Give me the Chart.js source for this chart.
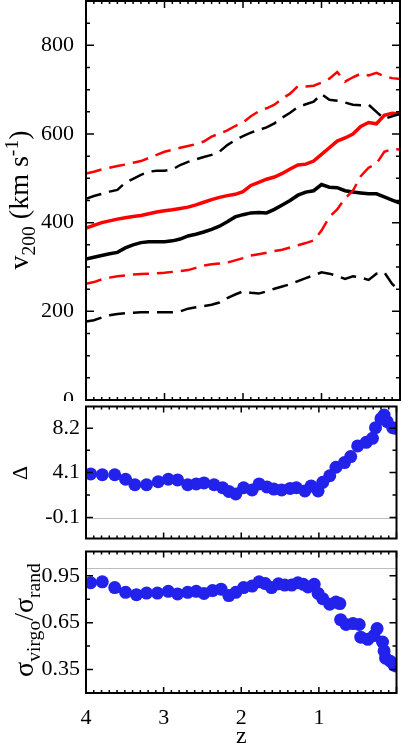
<!DOCTYPE html>
<html>
<head>
<meta charset="utf-8">
<script src="https://cdn.jsdelivr.net/npm/chart.js@4.4.1/dist/chart.umd.min.js"></script>
<style>
body { margin: 0; background: #fff; width: 403px; height: 746px; overflow: hidden; position: relative; font-family: "Liberation Serif", serif; }
canvas { position: absolute; left: 0; }
.yt { position: absolute; white-space: nowrap; transform: translate(-50%, -50%) rotate(-90deg); font-size: 28px; line-height: 1; color: #000; }
.yt sub, .yt sup { font-size: 70%; }
</style>
</head>
<body>
<canvas id="cV" width="403" height="401" style="top:0"></canvas>
<canvas id="cD" width="403" height="145" style="top:400px"></canvas>
<canvas id="cS" width="403" height="204" style="top:545px"></canvas>
<div class="yt" style="left:20px;top:200px">v<sub>200</sub> (km s<sup>-1</sup>)</div>
<div class="yt" style="left:20px;top:473px;font-size:22px">&Delta;</div>
<div class="yt" style="left:27px;top:620px">&sigma;<sub>virgo</sub>/&sigma;<sub>rand</sub></div>
<script>
// redshift grid for the v200 curves
const zLine = [4.0, 3.9, 3.8, 3.7, 3.6, 3.5, 3.4, 3.3, 3.2, 3.1, 3.0, 2.9, 2.8, 2.7, 2.6, 2.5, 2.4, 2.3, 2.2, 2.1,
               2.0, 1.9, 1.8, 1.7, 1.6, 1.5, 1.4, 1.3, 1.2, 1.1, 1.0, 0.9, 0.8, 0.7, 0.6, 0.5, 0.4, 0.3, 0.2, 0.1, 0.0];

const redMid = [388, 394, 400, 404, 408, 411, 414, 416, 420, 424, 427, 429, 432, 435, 440, 446, 452, 457, 461, 464,
                470, 484, 491, 498, 503, 511, 521, 530, 532, 539, 554, 569, 584, 591, 600, 617, 626, 623, 642, 647, 645];
const redHi  = [511, 515, 520, 524, 528, 531, 535, 539, 546, 553, 560, 564, 569, 573, 577, 583, 594, 601, 608, 618,
                626, 640, 651, 658, 666, 680, 691, 708, 707, 709, 716, 725, 740, 718, 728, 736, 732, 738, 730, 726, 724];
const redLo  = [262, 266, 272, 276, 279, 281, 283, 284, 285, 286, 287, 289, 291, 293, 298, 303, 306, 308, 310, 315,
                320, 326, 329, 332, 336, 339, 344, 349, 354, 360, 382, 413, 430, 455, 472, 505, 524, 533, 560, 566, 565];
const blackMid = [318, 322, 326, 330, 333, 343, 350, 355, 357, 357, 357, 359, 363, 370, 374, 379, 385, 392, 402, 413,
                  418, 422, 423, 422, 430, 440, 450, 462, 469, 472, 486, 480, 479, 472, 469, 467, 465, 465, 458, 451, 444];
const blackHi  = [454, 460, 465, 470, 474, 490, 499, 508, 515, 517, 517, 520, 530, 537, 543, 548, 553, 560, 575, 586,
                  595, 603, 609, 615, 624, 637, 648, 661, 667, 673, 690, 677, 675, 671, 666, 665, 666, 650, 634, 640, 645];
const blackLo  = [177, 180, 186, 191, 194, 196, 197, 198, 198, 198, 198, 198, 200, 206, 209, 212, 215, 220, 230, 238,
                  245, 242, 240, 245, 251, 256, 261, 268, 275, 281, 288, 285, 280, 273, 279, 276, 271, 285, 288, 262, 245];

const zDelta = [3.94, 3.79, 3.63, 3.49, 3.37, 3.22, 3.07, 2.94, 2.82, 2.69, 2.58, 2.48, 2.35, 2.24, 2.16, 2.07, 1.97,
                1.86, 1.77, 1.67, 1.58, 1.48, 1.37, 1.29, 1.18, 1.10, 1.01, 0.95, 0.86, 0.78, 0.67, 0.59, 0.50, 0.39,
                0.31, 0.27, 0.20, 0.16, 0.12, 0.05, 0.01];
const deltaVals = [3.96, 3.88, 3.88, 3.46, 2.95, 2.95, 3.23, 3.46, 3.40, 2.95, 3.03, 3.12, 2.95, 2.67, 2.33, 2.10, 2.67,
                   2.47, 3.03, 2.75, 2.55, 2.47, 2.61, 2.67, 2.38, 2.84, 2.38, 3.18, 3.79, 4.58, 5.01, 5.57, 6.56, 6.90,
                   7.27, 8.26, 9.10, 9.44, 8.82, 8.26, 8.20];

const zSigma = [3.94, 3.79, 3.63, 3.49, 3.35, 3.22, 3.08, 2.94, 2.82, 2.69, 2.58, 2.48, 2.37, 2.26, 2.16, 2.07, 1.97,
                1.86, 1.77, 1.69, 1.61, 1.52, 1.44, 1.35, 1.27, 1.20, 1.14, 1.06, 1.01, 0.95, 0.86, 0.78, 0.73, 0.72,
                0.65, 0.56, 0.48, 0.46, 0.37, 0.29, 0.25, 0.18, 0.16, 0.14, 0.08, 0.03, 0.0];
const sigmaVals = [0.905, 0.911, 0.874, 0.844, 0.829, 0.839, 0.839, 0.850, 0.833, 0.844, 0.850, 0.837, 0.855, 0.864,
                   0.823, 0.844, 0.874, 0.884, 0.911, 0.900, 0.874, 0.898, 0.890, 0.890, 0.905, 0.895, 0.878, 0.895,
                   0.837, 0.803, 0.768, 0.782, 0.772, 0.669, 0.638, 0.644, 0.638, 0.557, 0.543, 0.567, 0.612, 0.526,
                   0.469, 0.423, 0.403, 0.378, 0.372];

const zTickLabels = [4, 3, 2, 1];
const deltaTicks = [-0.1, 2.0, 4.1, 6.15, 8.2];
const deltaTickLabels = ['-0.1', '', '4.1', '', '8.2'];
const sigmaTicks = [0.35, 0.5, 0.65, 0.8, 0.95];
const sigmaTickLabels = ['0.35', '', '0.65', '', '0.95'];

const FONT = '"Liberation Serif", serif';
const BLUE = 'rgb(34, 34, 236)';
const DASH = [16, 8];

const pts = (xs, ys) => xs.map((x, i) => ({ x: x, y: ys[i] }));

// box around the plot, ticks pointing inward on all four sides, optional grey reference line
const framePlugin = {
    id: 'frame',
    beforeDatasetsDraw(chart, args, opts) {
        if (opts.refLine === undefined) return;
        const { ctx, chartArea: a, scales } = chart;
        const y = Math.round(scales.y.getPixelForValue(opts.refLine)) + 0.5;
        ctx.save();
        ctx.strokeStyle = '#bdbdbd';
        ctx.lineWidth = 1;
        ctx.beginPath();
        ctx.moveTo(a.left, y);
        ctx.lineTo(a.right, y);
        ctx.stroke();
        ctx.restore();
    },
    afterDatasetsDraw(chart, args, opts) {
        const { ctx, chartArea: a, scales } = chart;
        const big = opts.major || 6, small = opts.minor || 3;
        ctx.save();
        ctx.strokeStyle = '#000';
        ctx.lineWidth = 1.5;
        ctx.beginPath();
        for (let i = 0; i <= 40; i++) {
            const px = scales.x.getPixelForValue(i / 10);
            const len = i % 10 === 0 ? big : small;
            ctx.moveTo(px, a.top); ctx.lineTo(px, a.top + len);
            ctx.moveTo(px, a.bottom); ctx.lineTo(px, a.bottom - len);
        }
        scales.y.ticks.forEach(t => {
            const py = scales.y.getPixelForValue(t.value);
            const len = t.label !== '' ? big + 1 : small + 1;
            ctx.moveTo(a.left, py); ctx.lineTo(a.left + len, py);
            ctx.moveTo(a.right, py); ctx.lineTo(a.right - len, py);
        });
        ctx.stroke();
        ctx.lineWidth = 2;
        ctx.strokeRect(a.left, a.top, a.right - a.left, a.bottom - a.top);
        ctx.restore();
    }
};

function yAxis(min, max, extra) {
    return Object.assign({
        position: 'left',
        min: min,
        max: max,
        grid: { display: false, drawTicks: false },
        border: { display: false },
        ticks: { color: '#000', font: { family: FONT, size: 22 }, padding: 6, autoSkip: false },
        afterFit: s => { s.width = 86; s.paddingTop = 0; s.paddingBottom = 0; }
    }, extra);
}

function hiddenX() {
    return { type: 'linear', min: 0, max: 4, reverse: true, display: false };
}

function baseOptions(scales, frame) {
    return {
        responsive: false,
        animation: false,
        layout: { padding: { top: 0, right: 3, bottom: 0, left: 0 } },
        plugins: { legend: { display: false }, tooltip: { enabled: false }, frame: frame },
        scales: scales
    };
}

function lineSet(vals, color, width, dash) {
    return {
        data: pts(zLine, vals),
        borderColor: color,
        borderWidth: width,
        borderDash: dash || [],
        pointRadius: 0,
        tension: 0,
        fill: false,
        clip: 0
    };
}

// top panel: v200
new Chart(document.getElementById('cV'), {
    type: 'line',
    data: {
        datasets: [
            lineSet(blackLo, '#000', 2.5, DASH),
            lineSet(blackHi, '#000', 2.5, DASH),
            lineSet(redLo, '#ff0000', 2.5, DASH),
            lineSet(redHi, '#ff0000', 2.5, DASH),
            lineSet(blackMid, '#000', 3.5),
            lineSet(redMid, '#ff0000', 3.5)
        ]
    },
    options: (() => {
        const o = baseOptions({
            x: hiddenX(),
            y: yAxis(0, 900, {
                ticks: {
                    color: '#000', font: { family: FONT, size: 22 }, padding: 12, autoSkip: false,
                    stepSize: 50,
                    callback: v => (v % 200 === 0 ? String(v) : '')
                }
            })
        }, { major: 7, minor: 3 });
        o.layout.padding.top = 1;
        o.layout.padding.bottom = 1;
        return o;
    })(),
    plugins: [framePlugin]
});

// middle panel: Delta
new Chart(document.getElementById('cD'), {
    type: 'scatter',
    data: {
        datasets: [{
            data: pts(zDelta, deltaVals),
            backgroundColor: BLUE,
            borderWidth: 0,
            pointRadius: 6.5,
            clip: 0
        }]
    },
    options: baseOptions({
        x: hiddenX(),
        y: yAxis(-2.05, 10.23, {
            afterBuildTicks: s => { s.ticks = deltaTicks.map(v => ({ value: v })); },
            ticks: {
                color: '#000', font: { family: FONT, size: 22 }, padding: 6, autoSkip: false,
                callback: (v, i) => deltaTickLabels[i]
            }
        })
    }, { major: 6, minor: 3, refLine: -0.1 }),
    plugins: [framePlugin]
});

// bottom panel: sigma ratio
new Chart(document.getElementById('cS'), {
    type: 'scatter',
    data: {
        datasets: [{
            data: pts(zSigma, sigmaVals),
            backgroundColor: BLUE,
            borderWidth: 0,
            pointRadius: 6.5,
            clip: 0
        }]
    },
    options: baseOptions({
        x: {
            type: 'linear', min: 0, max: 4, reverse: true,
            grid: { display: false, drawTicks: false },
            border: { display: false },
            afterBuildTicks: s => { s.ticks = zTickLabels.map(v => ({ value: v })); },
            ticks: { color: '#000', font: { family: FONT, size: 22 }, padding: 12, autoSkip: false, maxRotation: 0 },
            title: { display: true, text: 'z', color: '#000', font: { family: FONT, size: 24, lineHeight: 1 }, padding: 0 },
            afterFit: s => { s.height = 56; s.paddingLeft = 0; s.paddingRight = 0; }
        },
        y: yAxis(0.2, 1.105, {
            afterBuildTicks: s => { s.ticks = sigmaTicks.map(v => ({ value: v })); },
            ticks: {
                color: '#000', font: { family: FONT, size: 22 }, padding: 6, autoSkip: false,
                callback: (v, i) => sigmaTickLabels[i]
            }
        })
    }, { major: 6, minor: 3, refLine: 1.0 }),
    plugins: [framePlugin]
});
</script>
</body>
</html>
